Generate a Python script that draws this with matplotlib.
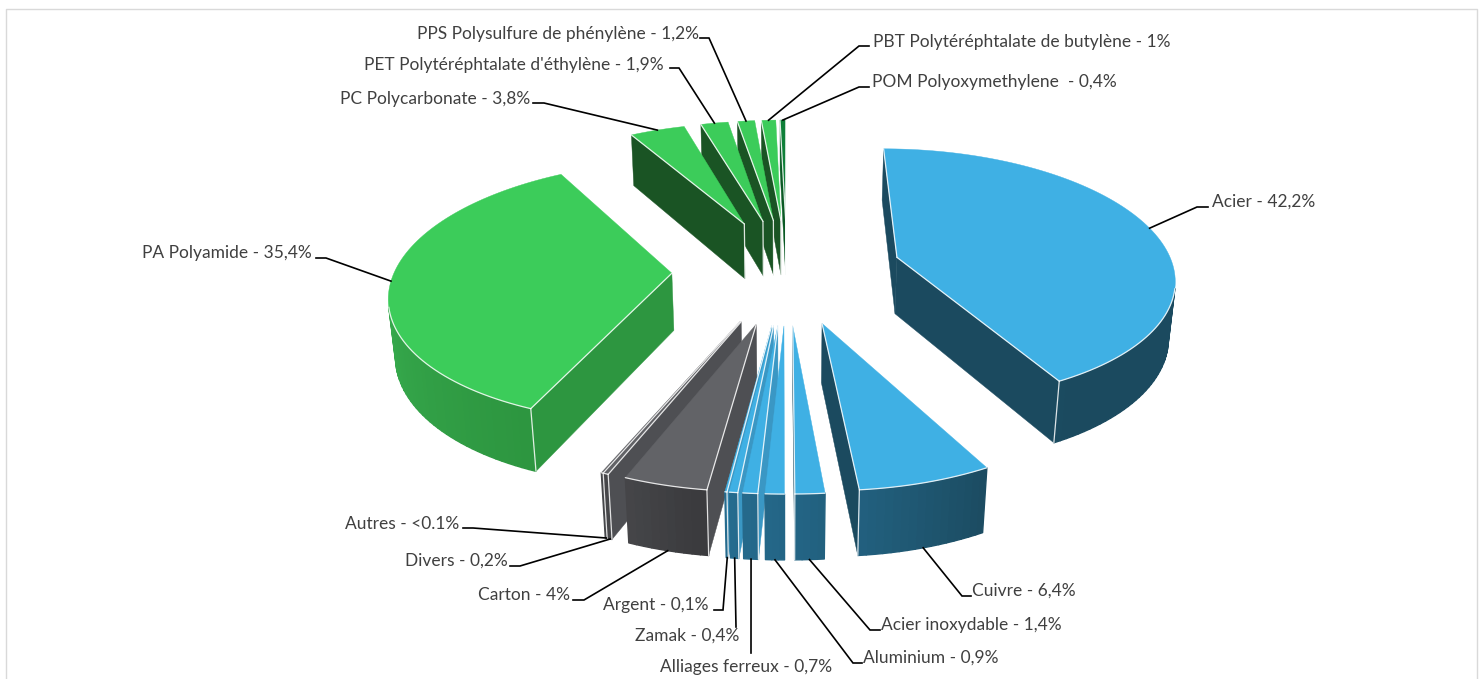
#!/usr/bin/env python3
# exploded 3D pie, drawn by hand since matplotlib has no perspective pie
import numpy as np
import matplotlib
matplotlib.use("Agg")
import matplotlib.pyplot as plt
from matplotlib.colors import to_rgb

# ------------- Data -------------
NAMES = ["Acier", "Cuivre", "Acier inoxydable", "Aluminium", "Alliages ferreux", "Zamak", "Argent",
         "Carton", "Divers", "Autres", "PA Polyamide", "PC Polycarbonate",
         "PET Polytéréphtalate d'éthylène", "PPS Polysulfure de phénylène",
         "PBT Polytéréphtalate de butylène", "POM Polyoxymethylene "]
VALUES = [42.2, 6.4, 1.4, 0.9, 0.7, 0.4, 0.1, 4.0, 0.2, 0.1, 35.4, 3.8, 1.9, 1.2, 1.0, 0.4]
VALUE_TEXT = ["42,2%", "6,4%", "1,4%", "0,9%", "0,7%", "0,4%", "0,1%", "4%", "0,2%", "<0.1%",
              "35,4%", "3,8%", "1,9%", "1,2%", "1%", "0,4%"]
GROUPS = ["metal"] * 7 + ["other"] * 3 + ["plastic"] * 5 + ["pom"]

# ------------- Layout -------------
CX, CY = 787, 270      # pie centre on the page, px
RX, RY = 277, 127      # radius scale
PERSP = 0.14           # perspective strength
DEPTH = 58             # wall height, px
DEPTH_PERSP = 0.018
EXPLODE = 0.415

# left x, centre y of each label
LABEL_POS = [(1212, 202), (972, 591), (881, 625), (863, 658), (660, 667), (635, 636), (603, 605),
             (478, 595), (405, 561), (345, 524), (142, 253), (340, 99), (364, 65), (417, 34),
             (873, 42), (872, 82)]
# leader path from the elbow to the label
LEADERS = [[(1197, 207), (1208, 207)], [(962, 596), (971, 596)], [(870, 630), (880, 630)],
           [(853, 663), (862, 663)], [(751, 653)], [(736, 627)], [(723, 610), (714, 610)],
           [(584, 600), (573, 600)], [(520, 566), (510, 566)], [(473, 528), (463, 528)],
           [(326, 258), (316, 258)], [(544, 103), (533, 103)], [(679, 68), (670, 68)],
           [(709, 38), (700, 38)], [(859, 46), (869, 46)], [(859, 87), (869, 87)]]

TOP = {"metal": "#3fb0e4", "other": "#626367", "plastic": "#3ccc5a", "pom": "#0e7f38"}
WALL_DARK = {"metal": "#1b4a5f", "other": "#3b3b3e", "plastic": "#2d9640", "pom": "#0a5a24"}
WALL_LIGHT = {"metal": "#2a7ba5", "other": "#48494c", "plastic": "#38ae4f", "pom": "#0a5a24"}
WALL_RAMP = {"metal": (150, 205), "other": (190, 205), "plastic": (205, 270), "pom": (0, 360)}


def project(x, y, z=0.0):
    w = 1 + PERSP * y + DEPTH_PERSP * z
    return CX + RX * x / w, CY - RY * y / w + DEPTH * z / w


def signed_area(pts):
    p = np.array(pts)
    return 0.5 * np.sum(p[:, 0] * np.roll(p[:, 1], -1) - np.roll(p[:, 0], -1) * p[:, 1])


def wall_colour(group, deg):
    lo, hi = WALL_RAMP[group]
    t = np.clip((deg - lo) / (hi - lo), 0, 1)
    return tuple((1 - t) * np.array(to_rgb(WALL_DARK[group])) + t * np.array(to_rgb(WALL_LIGHT[group])))


def radial_colour(group, mid, is_start):
    if group == "metal":
        return "#3a97c4" if (is_start and mid > 180) else "#1b4a5f"
    if group == "other":
        return "#4e4f53"
    if group == "pom":
        return "#0a5a24"
    return "#2d9640" if mid < 300 else "#1a5424"


fig = plt.figure(figsize=(14.83, 6.79), dpi=100)
ax = fig.add_axes([0, 0, 1, 1])
ax.set_xlim(0, 1483)
ax.set_ylim(679, 0)
ax.axis("off")
ax.plot([6, 6, 1477, 1477], [679, 9, 9, 679], color="#d9d9d9", lw=1)

# ------------- Slices -------------
edges = np.concatenate([[0], np.cumsum(VALUES)]) / np.sum(VALUES) * 360
mids = (edges[:-1] + edges[1:]) / 2
offsets = [(EXPLODE * np.sin(np.radians(m)), EXPLODE * np.cos(np.radians(m))) for m in mids]

# far slices first
order = sorted(range(len(VALUES)), key=lambda i: -offsets[i][1])
WHITE = dict(color="white", lw=0.9, alpha=0.85, solid_capstyle="round")
for i in order:
    a0, a1 = edges[i], edges[i + 1]
    ox, oy = offsets[i]
    group = GROUPS[i]
    angs = np.linspace(a0, a1, max(3, int((a1 - a0) / 1.5) + 2))
    ax_, ay_ = ox + np.sin(np.radians(angs)), oy + np.cos(np.radians(angs))
    top_arc = [project(x, y) for x, y in zip(ax_, ay_)]
    bot_arc = [project(x, y, 1) for x, y in zip(ax_, ay_)]
    apex_t, apex_b = project(ox, oy), project(ox, oy, 1)
    white_lines = []

    # radial sides, keep only those that face the viewer
    for is_start, (t, b) in ((True, (top_arc[0], bot_arc[0])), (False, (top_arc[-1], bot_arc[-1]))):
        quad = [apex_t, t, b, apex_b] if is_start else [t, apex_t, apex_b, b]
        if signed_area(quad) >= 0:
            continue
        ax.fill(*zip(*quad), color=radial_colour(group, mids[i], is_start), lw=0.3)
        white_lines.append([apex_t, t])
        # back slices show the inner corner, front ones the outer corner
        if mids[i] > 300:
            white_lines.append([apex_t, apex_b])
        elif not (is_start and mids[i] < 90):
            white_lines.append([t, b])

    # outer wall in strips for the shading
    rim = []
    for k in range(len(angs) - 1):
        quad = [top_arc[k], bot_arc[k], bot_arc[k + 1], top_arc[k + 1]]
        if signed_area(quad) <= 0:
            continue
        c = wall_colour(group, (angs[k] + angs[k + 1]) / 2)
        ax.fill(*zip(*quad), facecolor=c, edgecolor=c, lw=1.0, joinstyle="round")
        rim += [top_arc[k], top_arc[k + 1]]
    if rim:
        white_lines.append(rim)

    ax.fill(*zip(*([apex_t] + top_arc)), facecolor=TOP[group], edgecolor=TOP[group], lw=0.3)
    for seg in white_lines:
        ax.plot(*zip(*seg), **WHITE)

# ------------- Leaders and labels -------------
for i, name in enumerate(NAMES):
    m = np.radians(mids[i])
    ox, oy = offsets[i]
    # upper slices are hit on the top rim, lower ones under the wall
    z = 1 if np.cos(m) < -0.3 else 0
    start = project(ox + np.sin(m), oy + np.cos(m), z)
    path = [start] + LEADERS[i]
    ax.plot(*zip(*path), color="black", lw=1.2, solid_joinstyle="miter")
    x, y = LABEL_POS[i]
    ax.text(x, y, f"{name} - {VALUE_TEXT[i]}", ha="left", va="center", family="Lato",
            fontsize=12.5, color="#404040")

fig.savefig("out.png", dpi=100)
